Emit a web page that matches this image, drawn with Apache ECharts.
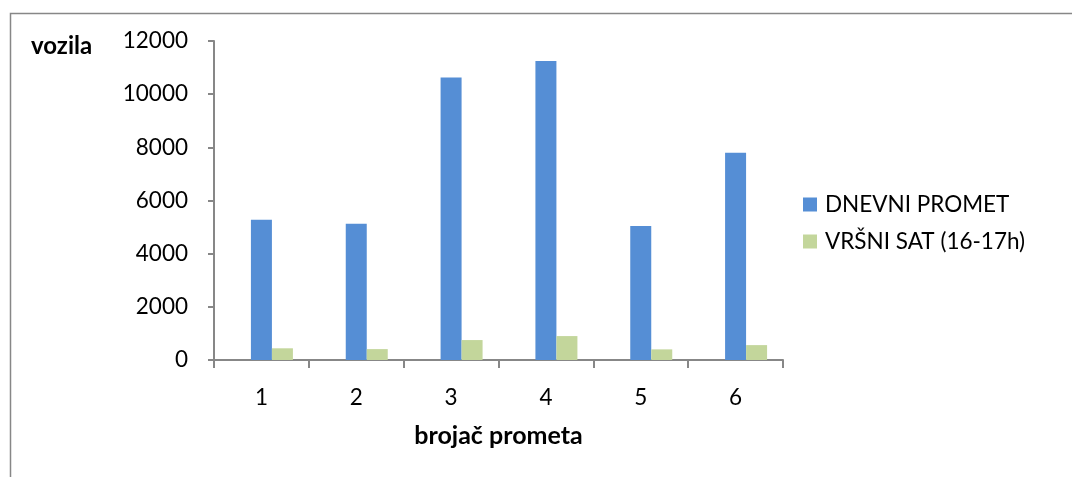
<!DOCTYPE html>
<html>
<head>
<meta charset="utf-8">
<script src="https://cdn.jsdelivr.net/npm/echarts@6/dist/echarts.min.js"></script>
<style>
  html, body { margin: 0; padding: 0; background: #ffffff; }
  #chart { width: 1072px; height: 477px; }
</style>
</head>
<body>
<div id="chart"></div>
<script>
// Traffic counters and counted vehicles
const counters = ['1', '2', '3', '4', '5', '6'];
const dailyTraffic = [5280, 5130, 10630, 11250, 5040, 7800];
const peakHour = [440, 410, 750, 900, 400, 560];
const yTicks = [0, 2000, 4000, 6000, 8000, 10000, 12000];

const FONT = 'Lato, "Open Sans", sans-serif';
const AXIS_GREY = '#878787';

const chart = echarts.init(document.getElementById('chart'), null, { renderer: 'canvas' });

chart.setOption({
  animation: false,
  backgroundColor: '#ffffff',
  textStyle: { fontFamily: FONT },
  title: {
    text: 'vozila',
    left: 31,
    top: 34,
    padding: 0,
    textStyle: { fontFamily: FONT, fontSize: 24, fontWeight: 'bold', color: '#000' }
  },
  graphic: [{
    type: 'rect',
    left: 8, top: 11,
    shape: { width: 1200, height: 600 },
    style: { fill: 'none', stroke: AXIS_GREY, lineWidth: 1.5 },
    silent: true
  }],
  legend: {
    orient: 'vertical',
    left: 803,
    top: 193,
    padding: 0,
    itemWidth: 14,
    itemHeight: 14,
    itemGap: 14,
    icon: 'rect',
    data: ['DNEVNI PROMET', 'VRŠNI SAT (16-17h)'],
    textStyle: { fontFamily: FONT, fontSize: 22.5, color: '#000', padding: [0, 0, 0, 3] }
  },
  grid: { left: 214, right: 289, top: 41, bottom: 117 },
  xAxis: {
    type: 'category',
    data: counters,
    name: 'brojač prometa',
    nameLocation: 'middle',
    nameGap: 63,
    nameTextStyle: { fontFamily: FONT, fontSize: 25, fontWeight: 'bold', color: '#000' },
    axisLine: { lineStyle: { color: AXIS_GREY, width: 2 } },
    axisTick: { show: true, length: 8, inside: false, alignWithLabel: false, lineStyle: { color: AXIS_GREY, width: 2 } },
    axisLabel: { fontFamily: FONT, fontSize: 22.5, color: '#000', margin: 26 }
  },
  yAxis: {
    type: 'value',
    min: yTicks[0],
    max: yTicks[yTicks.length - 1],
    interval: 2000,
    splitLine: { show: false },
    axisLine: { show: true, lineStyle: { color: AXIS_GREY, width: 2 } },
    axisTick: { show: true, length: 6, lineStyle: { color: AXIS_GREY, width: 2 } },
    axisLabel: {
      fontFamily: FONT, fontSize: 22.5, color: '#000', margin: 26,
      formatter: (v) => String(v)
    }
  },
  series: [
    {
      // empty leading slot: keeps the bar pair in the right half of each category
      name: '',
      type: 'bar',
      data: [],
      barWidth: 21,
      barGap: '0%',
      silent: true
    },
    {
      name: 'DNEVNI PROMET',
      type: 'bar',
      data: dailyTraffic,
      barWidth: 21,
      barGap: '0%',
      itemStyle: { color: '#558ed5' }
    },
    {
      name: 'VRŠNI SAT (16-17h)',
      type: 'bar',
      data: peakHour,
      barWidth: 21,
      barGap: '0%',
      itemStyle: { color: '#c3d69b' }
    }
  ]
});
</script>
</body>
</html>
